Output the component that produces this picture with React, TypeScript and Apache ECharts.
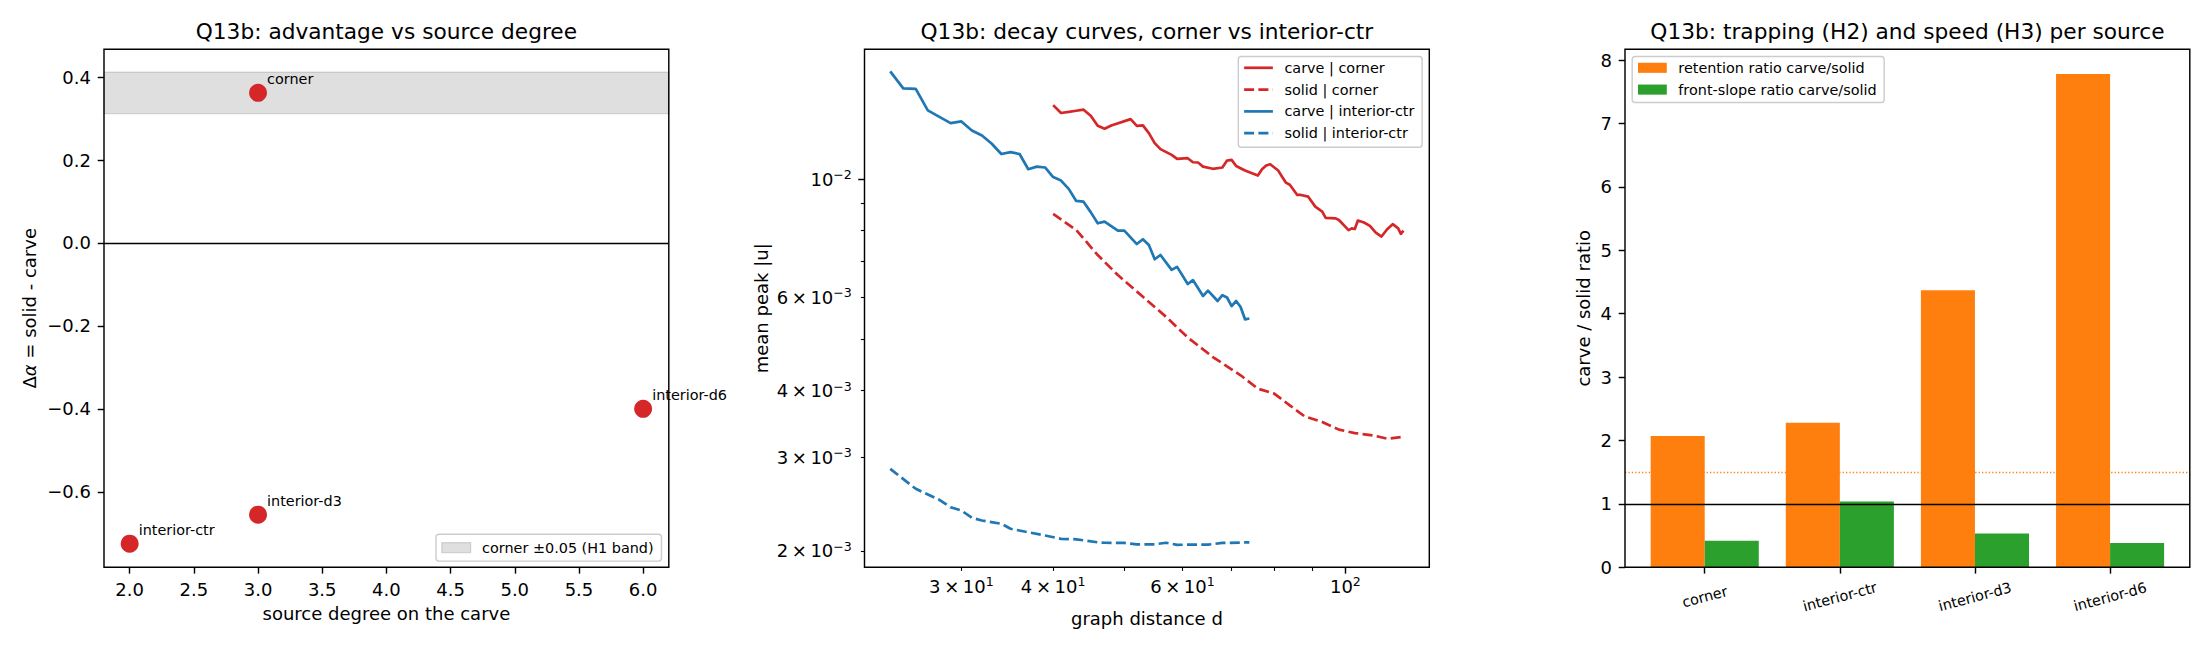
import React, { useEffect, useRef } from 'react';
import * as echarts from 'echarts';

const FONT = 'DejaVu Sans';

// ---------- Left panel: advantage vs source degree ----------
const sourceNames = ['corner', 'interior-ctr', 'interior-d3', 'interior-d6'];
const sourceDegree = [3, 2, 3, 6];
const deltaAlpha = [0.362, -0.725, -0.655, -0.4];
const bandHalfWidth = 0.05;
const leftXTicks = [2.0, 2.5, 3.0, 3.5, 4.0, 4.5, 5.0, 5.5, 6.0];
const leftYTicks = [-0.6, -0.4, -0.2, 0.0, 0.2, 0.4];

// ---------- Middle panel: decay curves ----------
const carveCornerD = [40, 41, 42, 43, 44, 45, 46, 47, 48, 51, 52, 53, 54, 55, 56, 58, 59, 61, 62, 63, 64, 66, 68, 69, 70, 71, 73, 76, 77, 78, 79, 81, 82, 83, 84, 86, 87, 89, 91, 93, 94, 97, 98, 101, 102, 103, 104, 106, 108, 110, 112, 114, 116, 118, 119, 120];
const carveCornerU = [0.01378, 0.01332, 0.01338, 0.01345, 0.01351, 0.01316, 0.0126, 0.01244, 0.01262, 0.01297, 0.0126, 0.01262, 0.01221, 0.01169, 0.01139, 0.01111, 0.01092, 0.01095, 0.01076, 0.01075, 0.01056, 0.01046, 0.01052, 0.01084, 0.01087, 0.01059, 0.01038, 0.01016, 0.01044, 0.01061, 0.01067, 0.01038, 0.01011, 0.00985, 0.00976, 0.00934, 0.00934, 0.00927, 0.00888, 0.00869, 0.00846, 0.00844, 0.00838, 0.00802, 0.00808, 0.00806, 0.00836, 0.00829, 0.00817, 0.00793, 0.0078, 0.00805, 0.00823, 0.00808, 0.00789, 0.008];

const solidCornerD = [40, 43, 46, 49, 53, 57, 61, 66, 72, 76, 80, 84, 88, 93, 98, 103, 109, 114, 119];
const solidCornerU = [0.008603, 0.008024, 0.0072, 0.006601, 0.006009, 0.005508, 0.005038, 0.004629, 0.004277, 0.004037, 0.003951, 0.003755, 0.00358, 0.003493, 0.00338, 0.00333, 0.003297, 0.00325, 0.003272];

const carveCtrD = [24, 25, 26, 27, 29, 30, 31, 32, 33, 34, 35, 36, 37, 38, 39, 40, 41, 42, 43, 44, 45, 46, 47, 49, 50, 52, 53, 54, 55, 56, 58, 59, 61, 62, 64, 65, 67, 68, 69, 70, 71, 72, 73, 74];
const carveCtrU = [0.01595, 0.01482, 0.01478, 0.01347, 0.01275, 0.01284, 0.01235, 0.01208, 0.01166, 0.01115, 0.01124, 0.01115, 0.01044, 0.01056, 0.01052, 0.01009, 0.00994, 0.00959, 0.0091, 0.00907, 0.00867, 0.00826, 0.00832, 0.008, 0.008, 0.00755, 0.00771, 0.00752, 0.00707, 0.0072, 0.00675, 0.00684, 0.00635, 0.00646, 0.00603, 0.00617, 0.0059, 0.00605, 0.00599, 0.00577, 0.0059, 0.00575, 0.00545, 0.00547];

const solidCtrD = [24, 26, 28, 29, 30, 31, 32, 34, 35, 37, 39, 41, 43, 46, 47, 50, 52, 55, 57, 59, 61, 65, 68, 74];
const solidCtrU = [0.002852, 0.002616, 0.002494, 0.002415, 0.002381, 0.002307, 0.00228, 0.002248, 0.0022, 0.002167, 0.002137, 0.002106, 0.002102, 0.002075, 0.002071, 0.002069, 0.002057, 0.002057, 0.002071, 0.002052, 0.002054, 0.002054, 0.002069, 0.002075];

const midXMin = 22.14;
const midXMax = 130.1;
const midYMin = 0.001862;
const midYMax = 0.01755;
const midXLabelTicks = [30, 40, 60, 100];
const midXMinorTicks = [30, 40, 50, 60, 70, 80, 90];
const midXMajorTicks = [100];
const midYLabelTicks = [0.002, 0.003, 0.004, 0.006, 0.01];
const midYMinorTicks = [0.002, 0.003, 0.004, 0.005, 0.006, 0.007, 0.008, 0.009];
const midYMajorTicks = [0.01];

// ---------- Right panel: trapping and speed ----------
const barCategories = ['corner', 'interior-ctr', 'interior-d3', 'interior-d6'];
const retentionRatio = [2.07, 2.28, 4.37, 7.78];
const frontSlopeRatio = [0.42, 1.037, 0.535, 0.385];
const rightYTicks = [0, 1, 2, 3, 4, 5, 6, 7, 8];
const parityValue = 1;
const retentionThreshold = 1.5;

// ---------- Layout ----------
const TOP = 49.3;
const H = 518;
const W = 564.8;
const LEFTS = [104, 864.5, 1625];
const RED = '#d62728';
const BLUE = '#1f77b4';
const ORANGE = '#ff7f0e';
const GREEN = '#2ca02c';
const TICK_LEN = 6.3;
const MINOR_LEN = 3.6;
const TICK_W = 1.44;

function signed(v: number): string {
  const s = Math.abs(v).toFixed(1);
  return v < -1e-9 ? '\u2212' + s : s;
}

function sciLabel(v: number): string {
  const e = Math.floor(Math.log10(v) + 1e-9);
  const m = Math.round(v / Math.pow(10, e));
  const es = e < 0 ? '\u2212' + Math.abs(e) : String(e);
  return m === 1 ? `{b|10}{s|${es}}` : `{b|${m}\u2009\u00d7\u200910}{s|${es}}`;
}

const sciRich = {
  b: { fontSize: 18, fontFamily: FONT, color: '#000', lineHeight: 22 },
  s: { fontSize: 12.6, fontFamily: FONT, color: '#000', lineHeight: 12, verticalAlign: 'top' },
};

const zipPts = (xs: number[], ys: number[]) => xs.map((x, i) => [x, ys[i]]);

function baseAxis(extra: any) {
  return {
    axisLine: { show: false, onZero: false },
    splitLine: { show: false },
    minorTick: { show: false },
    ...extra,
  };
}

function tickStyle(values: number[], len: number, width: number) {
  return { show: true, customValues: values, length: len, inside: false, lineStyle: { color: '#000', width } };
}

function labelStyle(values: number[], formatter: any, extra: any = {}) {
  return {
    show: true,
    customValues: values,
    formatter,
    color: '#000',
    fontSize: 18,
    fontFamily: FONT,
    margin: 13,
    ...extra,
  };
}

function buildOption() {
  const grids = LEFTS.map((l) => ({ left: l, top: TOP, width: W, height: H, containLabel: false, outerBoundsMode: 'none' }));
  const barPx = (0.4 * W) / (3.59 + 0.59);

  const xAxis = [
    baseAxis({
      gridIndex: 0, type: 'value', min: 1.8, max: 6.2, position: 'bottom',
      axisTick: tickStyle(leftXTicks, TICK_LEN, TICK_W),
      axisLabel: labelStyle(leftXTicks, (v: number) => v.toFixed(1), { lineHeight: 18 }),
    }),
    baseAxis({
      gridIndex: 1, type: 'log', logBase: 10, min: midXMin, max: midXMax, position: 'bottom',
      axisTick: tickStyle(midXMinorTicks, MINOR_LEN, 1.08),
      axisLabel: labelStyle(midXLabelTicks, sciLabel, { rich: sciRich, margin: 8 }),
    }),
    baseAxis({
      gridIndex: 1, type: 'log', logBase: 10, min: midXMin, max: midXMax, position: 'bottom',
      axisTick: tickStyle(midXMajorTicks, TICK_LEN, TICK_W),
      axisLabel: { show: false },
    }),
    baseAxis({
      gridIndex: 2, type: 'value', min: -0.59, max: 3.59, position: 'bottom',
      axisTick: tickStyle([0, 1, 2, 3], TICK_LEN, TICK_W),
      axisLabel: labelStyle([0, 1, 2, 3], (v: number) => barCategories[Math.round(v)], {
        rotate: 15, fontSize: 14.4, align: 'center', verticalAlign: 'middle', margin: 29.5, lineHeight: 16,
      }),
    }),
  ];

  const yAxis = [
    baseAxis({
      gridIndex: 0, type: 'value', min: -0.782, max: 0.467, position: 'left',
      axisTick: tickStyle(leftYTicks, TICK_LEN, TICK_W),
      axisLabel: labelStyle(leftYTicks, signed, { lineHeight: 18 }),
    }),
    baseAxis({
      gridIndex: 1, type: 'log', logBase: 10, min: midYMin, max: midYMax, position: 'left',
      axisTick: tickStyle(midYMinorTicks, MINOR_LEN, 1.08),
      axisLabel: labelStyle(midYLabelTicks, sciLabel, { rich: sciRich, margin: 12.6, align: 'right' }),
    }),
    baseAxis({
      gridIndex: 1, type: 'log', logBase: 10, min: midYMin, max: midYMax, position: 'left',
      axisTick: tickStyle(midYMajorTicks, TICK_LEN, TICK_W),
      axisLabel: { show: false },
    }),
    baseAxis({
      gridIndex: 2, type: 'value', min: 0, max: 8.17, position: 'left',
      axisTick: tickStyle(rightYTicks, TICK_LEN, TICK_W),
      axisLabel: labelStyle(rightYTicks, (v: number) => String(Math.round(v)), { lineHeight: 18 }),
    }),
  ];

  const hLine = (y: number, color: string, width: number, type: any) => ({
    silent: true,
    symbol: ['none', 'none'],
    label: { show: false },
    emphasis: { disabled: true },
    lineStyle: { color, width, type, opacity: 1 },
    data: [{ yAxis: y }],
  });

  const lineSeries = (name: string, xs: number[], ys: number[], color: string, dashed: boolean) => ({
    name,
    type: 'line',
    xAxisIndex: 1,
    yAxisIndex: 1,
    data: zipPts(xs, ys),
    showSymbol: false,
    symbol: 'none',
    smooth: false,
    lineStyle: { color, width: 2.7, type: dashed ? [10, 4.3] : 'solid', cap: 'butt', join: 'round' },
    itemStyle: { color },
    z: 3,
  });

  const series: any[] = [
    {
      name: 'sources',
      type: 'scatter',
      xAxisIndex: 0,
      yAxisIndex: 0,
      symbolSize: 18,
      itemStyle: { color: RED, opacity: 1 },
      data: sourceDegree.map((x, i) => ({ name: sourceNames[i], value: [x, deltaAlpha[i]] })),
      label: {
        show: true,
        formatter: '{b}',
        position: [18, -5],
        align: 'left',
        verticalAlign: 'middle',
        fontSize: 14.4,
        fontFamily: FONT,
        color: '#000',
      },
      markArea: {
        silent: true,
        label: { show: false },
        itemStyle: { color: 'rgba(128,128,128,0.25)', borderColor: 'rgba(128,128,128,0.3)', borderWidth: 1.4 },
        data: [[{ yAxis: deltaAlpha[0] - bandHalfWidth }, { yAxis: deltaAlpha[0] + bandHalfWidth }]],
      },
      markLine: hLine(0, '#000', 1.3, 'solid'),
      z: 5,
    },
    lineSeries('carve | corner', carveCornerD, carveCornerU, RED, false),
    lineSeries('solid | corner', solidCornerD, solidCornerU, RED, true),
    lineSeries('carve | interior-ctr', carveCtrD, carveCtrU, BLUE, false),
    lineSeries('solid | interior-ctr', solidCtrD, solidCtrU, BLUE, true),
    {
      name: 'threshold',
      type: 'line',
      xAxisIndex: 3,
      yAxisIndex: 3,
      data: [],
      z: 1,
      markLine: hLine(retentionThreshold, ORANGE, 1.3, [1.3, 2.1]),
    },
    {
      name: 'retention ratio carve/solid',
      type: 'bar',
      xAxisIndex: 3,
      yAxisIndex: 3,
      barWidth: barPx,
      barGap: '-100%',
      itemStyle: { color: ORANGE },
      data: retentionRatio.map((v, i) => [i - 0.2, v]),
      z: 2,
    },
    {
      name: 'front-slope ratio carve/solid',
      type: 'bar',
      xAxisIndex: 3,
      yAxisIndex: 3,
      barWidth: barPx,
      barGap: '-100%',
      itemStyle: { color: GREEN },
      data: frontSlopeRatio.map((v, i) => [i + 0.2, v]),
      z: 2,
    },
    {
      name: 'parity',
      type: 'line',
      xAxisIndex: 3,
      yAxisIndex: 3,
      data: [],
      z: 4,
      markLine: hLine(parityValue, '#000', 1.3, 'solid'),
    },
  ];

  const txt = (text: string, x: number, y: number, size: number, extra: any = {}) => ({
    type: 'text',
    x,
    y,
    z: 100,
    silent: true,
    style: { text, fill: '#000', fontSize: size, fontFamily: FONT, align: 'center', verticalAlign: 'middle', ...extra },
  });

  const graphics: any[] = [];
  const titles = [
    'Q13b: advantage vs source degree',
    'Q13b: decay curves, corner vs interior-ctr',
    'Q13b: trapping (H2) and speed (H3) per source',
  ];
  titles.forEach((t, i) => graphics.push(txt(t, LEFTS[i] + W / 2, 31, 21.7)));

  // axis labels
  graphics.push({
    ...txt('', 29, TOP + H / 2, 18),
    rotation: Math.PI / 2,
    style: {
      text: '{n|\u0394}{i|\u03b1}{n| = solid - carve}',
      fill: '#000', align: 'center', verticalAlign: 'middle', fontSize: 18, fontFamily: FONT,
      rich: {
        n: { fontSize: 18, fontFamily: FONT, fill: '#000' },
        i: { fontSize: 18, fontFamily: FONT, fontStyle: 'italic', fill: '#000' },
      },
    },
  });
  graphics.push({ ...txt('mean peak |u|', 761, TOP + H / 2, 18), rotation: Math.PI / 2 });
  graphics.push({ ...txt('carve / solid ratio', 1583.5, TOP + H / 2, 18), rotation: Math.PI / 2 });
  graphics.push(txt('source degree on the carve', LEFTS[0] + W / 2, 613.5, 18));
  graphics.push(txt('graph distance d', LEFTS[1] + W / 2, 618, 18));

  // frames
  LEFTS.forEach((l) =>
    graphics.push({
      type: 'rect', z: 100, silent: true,
      shape: { x: l, y: TOP, width: W, height: H },
      style: { fill: 'none', stroke: '#000', lineWidth: TICK_W },
    })
  );

  const legendBox = (x: number, y: number, w: number, h: number) => ({
    type: 'rect', z: 101, silent: true,
    shape: { x, y, width: w, height: h, r: 3 },
    style: { fill: 'rgba(255,255,255,0.8)', stroke: '#cccccc', lineWidth: 1.4 },
  });
  const legendText = (text: string, x: number, y: number) => ({
    type: 'text', z: 102, silent: true, x, y,
    style: { text, fill: '#000', fontSize: 14.4, fontFamily: FONT, align: 'left', verticalAlign: 'middle' },
  });

  // left legend
  graphics.push(legendBox(436, 534.3, 225.5, 26.8));
  graphics.push({
    type: 'rect', z: 102, silent: true,
    shape: { x: 441.8, y: 547.7 - 5.04, width: 28.8, height: 10.08 },
    style: { fill: 'rgba(128,128,128,0.25)', stroke: 'rgba(128,128,128,0.3)', lineWidth: 1.2 },
  });
  graphics.push(legendText('corner \u00b10.05 (H1 band)', 482.1, 547.7));

  // middle legend
  graphics.push(legendBox(1238.3, 56.5, 183.8, 90.8));
  const midLegend = [
    { name: 'carve | corner', color: RED, dashed: false },
    { name: 'solid | corner', color: RED, dashed: true },
    { name: 'carve | interior-ctr', color: BLUE, dashed: false },
    { name: 'solid | interior-ctr', color: BLUE, dashed: true },
  ];
  midLegend.forEach((it, k) => {
    const ry = 67.8 + k * 21.8;
    graphics.push({
      type: 'line', z: 102, silent: true,
      shape: { x1: 1244.1, y1: ry, x2: 1272.9, y2: ry },
      style: { stroke: it.color, lineWidth: 2.7, lineDash: it.dashed ? [10, 4.3] : null },
    });
    graphics.push(legendText(it.name, 1284.4, ry));
  });

  // right legend
  graphics.push(legendBox(1632.2, 56.5, 252, 46));
  const rightLegend = [
    { name: 'retention ratio carve/solid', color: ORANGE },
    { name: 'front-slope ratio carve/solid', color: GREEN },
  ];
  rightLegend.forEach((it, k) => {
    const ry = 67.8 + k * 21.8;
    graphics.push({
      type: 'rect', z: 102, silent: true,
      shape: { x: 1638, y: ry - 5.04, width: 28.8, height: 10.08 },
      style: { fill: it.color },
    });
    graphics.push(legendText(it.name, 1678.3, ry));
  });

  return {
    animation: false,
    backgroundColor: '#ffffff',
    textStyle: { fontFamily: FONT },
    grid: grids,
    xAxis,
    yAxis,
    series,
    graphic: { elements: graphics },
  };
}

export default function App() {
  const ref = useRef<HTMLDivElement>(null);
  useEffect(() => {
    document.body.style.margin = '0';
    if (!ref.current) return;
    const chart = echarts.init(ref.current, null, { renderer: 'svg' });
    chart.setOption(buildOption() as any);
    return () => {
      chart.dispose();
    };
  }, []);
  return <div ref={ref} style={{ width: 2210, height: 650 }} />;
}
